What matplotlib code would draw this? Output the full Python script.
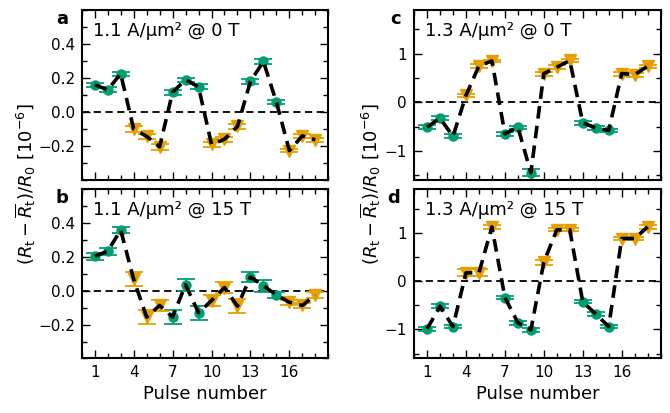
import numpy as np
import matplotlib
matplotlib.use("Agg")
import matplotlib.pyplot as plt
from matplotlib.ticker import MultipleLocator

GREEN = "#009E73"
ORANGE = "#E69F00"

pulse = np.arange(1, 19)
# which pulses are the "up" (green) ones and "down" (orange) ones
is_green = np.array([1, 1, 1, 0, 0, 0, 1, 1, 1, 0, 0, 0, 1, 1, 1, 0, 0, 0], dtype=bool)

# panel a: 1.1 A/um2 @ 0 T
val_a = [0.16, 0.13, 0.225, -0.10, -0.143, -0.205, 0.116, 0.19, 0.148,
         -0.19, -0.16, -0.085, 0.18, 0.297, 0.058, -0.227, -0.14, -0.163]
err_a = [0.013, 0.015, 0.012, 0.015, 0.015, 0.018, 0.014, 0.012, 0.015,
         0.015, 0.015, 0.014, 0.015, 0.012, 0.012, 0.01, 0.012, 0.012]

# panel b: 1.1 A/um2 @ 15 T
val_b = [0.204, 0.233, 0.359, 0.068, -0.155, -0.087, -0.155, 0.035, -0.13,
         -0.058, 0.019, -0.091, 0.082, 0.029, -0.025, -0.068, -0.087, -0.025]
err_b = [0.02, 0.02, 0.015, 0.04, 0.04, 0.035, 0.04, 0.035, 0.04,
         0.035, 0.035, 0.04, 0.03, 0.035, 0.02, 0.015, 0.015, 0.02]

# panel c: 1.3 A/um2 @ 0 T
val_c = [-0.51, -0.33, -0.70, 0.14, 0.75, 0.85, -0.65, -0.51, -1.45,
         0.59, 0.72, 0.86, -0.42, -0.53, -0.58, 0.59, 0.57, 0.74]
err_c = [0.04, 0.04, 0.04, 0.04, 0.04, 0.03, 0.04, 0.03, 0.07,
         0.04, 0.04, 0.04, 0.04, 0.04, 0.04, 0.04, 0.04, 0.03]

# panel d: 1.3 A/um2 @ 15 T
val_d = [-0.99, -0.52, -0.94, 0.17, 0.17, 1.12, -0.34, -0.86, -1.01,
         0.39, 1.06, 1.06, -0.43, -0.68, -0.94, 0.88, 0.88, 1.12]
err_d = [0.04, 0.04, 0.04, 0.07, 0.07, 0.04, 0.03, 0.04, 0.05,
         0.05, 0.03, 0.03, 0.03, 0.04, 0.04, 0.04, 0.04, 0.04]

panels = [
    ("a", "1.1 A/µm² @ 0 T", val_a, err_a),
    ("b", "1.1 A/µm² @ 15 T", val_b, err_b),
    ("c", "1.3 A/µm² @ 0 T", val_c, err_c),
    ("d", "1.3 A/µm² @ 15 T", val_d, err_d),
]

x_ticks = [1, 4, 7, 10, 13, 16]
ylabel = r"$(R_\mathrm{t}-\overline{R}_\mathrm{t})/R_0\ [10^{-6}]$"

plt.rcParams["font.family"] = ["DejaVu Sans"]
plt.rcParams["mathtext.fontset"] = "dejavusans"

fig = plt.figure(figsize=(6.7, 4.13), dpi=100)

# [left, bottom, width, height]
boxes = {
    "a": [0.122, 0.564, 0.368, 0.412],
    "b": [0.122, 0.132, 0.368, 0.410],
    "c": [0.618, 0.564, 0.368, 0.412],
    "d": [0.618, 0.132, 0.368, 0.410],
}


def draw_panel(ax, vals, errs):
    """
    Dashed trace plus coloured points with error bars.
    """
    vals = np.asarray(vals)
    errs = np.asarray(errs)
    ax.axhline(0, color="black", ls="--", lw=1.3, dashes=(4, 2.5), zorder=1)
    for mask, col, mk, ms in [(is_green, GREEN, "o", 6.5), (~is_green, ORANGE, "v", 8)]:
        ax.errorbar(pulse[mask], vals[mask], yerr=errs[mask], fmt=mk, color=col,
                    ms=ms, capsize=6.5, elinewidth=1.3, capthick=1.3, zorder=2)
    ax.plot(pulse, vals, color="black", lw=2.6, ls="--", dashes=(3.5, 2), zorder=3)


for label, title, vals, errs in panels:
    ax = fig.add_axes(boxes[label])
    draw_panel(ax, vals, errs)

    ax.set_xlim(0, 19)
    ax.set_xticks(x_ticks)
    ax.xaxis.set_minor_locator(MultipleLocator(1))
    if label in ("a", "b"):
        ax.set_ylim(-0.4, 0.6)
        ax.set_yticks([-0.2, 0.0, 0.2, 0.4])
        ax.yaxis.set_minor_locator(MultipleLocator(0.1))
    else:
        ax.set_ylim(-1.6, 1.9)
        ax.set_yticks([-1, 0, 1])
        ax.yaxis.set_minor_locator(MultipleLocator(0.5))

    ax.tick_params(which="both", direction="in", top=True, right=True,
                   labelsize=11, width=1.0, pad=5)
    ax.tick_params(which="major", length=6)
    ax.tick_params(which="minor", length=3.5)
    for sp in ax.spines.values():
        sp.set_linewidth(1.5)

    if label in ("a", "c"):
        ax.tick_params(labelbottom=False)
    else:
        ax.set_xlabel("Pulse number", fontsize=13, labelpad=3)

    ax.text(0.045, 0.93, title, transform=ax.transAxes, ha="left", va="top",
            fontsize=13)
    ax.text(-0.055, 1.0, label, transform=ax.transAxes, ha="right", va="top",
            fontsize=13, fontweight="bold")

fig.text(0.039, 0.554, ylabel, rotation=90, ha="center", va="center", fontsize=13)
fig.text(0.553, 0.554, ylabel, rotation=90, ha="center", va="center", fontsize=13)

fig.savefig("out.png", dpi=100)
